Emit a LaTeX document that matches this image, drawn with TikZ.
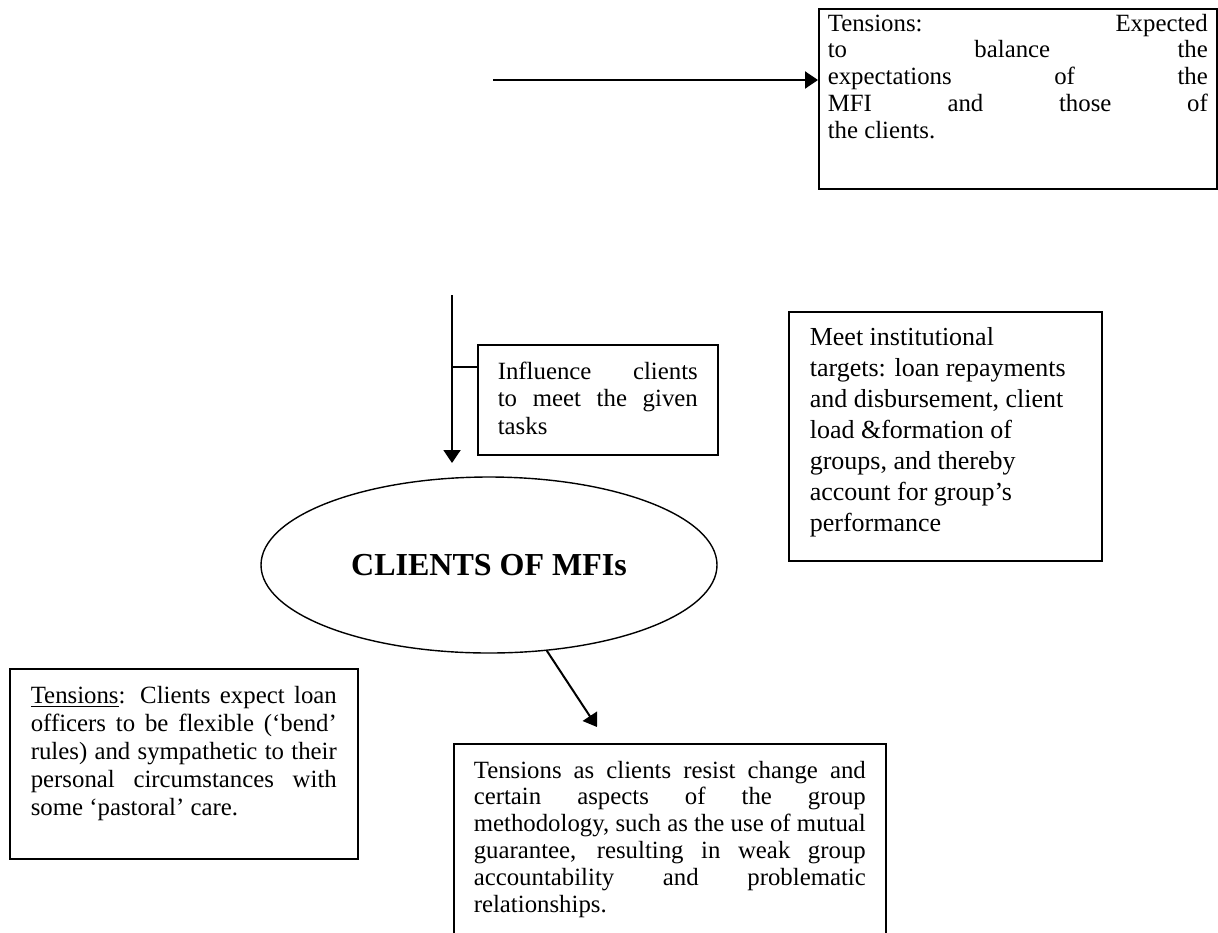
\documentclass[tikz,border=0pt]{standalone}
\usepackage{fontspec}
\setmainfont{Liberation Serif}
\usetikzlibrary{arrows.meta,shapes.geometric}

\tikzset{
  txtbox/.style={draw, line width=0.8pt, anchor=north west, inner xsep=10pt, inner ysep=8.5pt,
    font=\fontsize{12.4}{13.8}\selectfont},
  conn/.style={line width=1pt, -{Triangle[length=6.5pt,width=8.5pt]}},
}
\newcommand{\boxpar}[3]{\parbox[t][#2][t]{#1}{\hyphenpenalty=10000 #3}}

\begin{document}
\begin{tikzpicture}[x=0.5pt,y=-0.5pt]
  \useasboundingbox (0,0) rectangle (1218,932);
  \clip (0,0) rectangle (1218,932);

  % text boxes
  \node[txtbox, inner xsep=4.5pt, inner ysep=2.5pt, font=\fontsize{12.4}{13.4}\selectfont] (tens) at (818,8)
    {\boxpar{190pt}{85pt}{Tensions: Expected\linebreak to balance the\linebreak
      expectations of the\linebreak MFI and those of\linebreak the clients.}};
  \node[txtbox] (infl) at (477,344)
    {\boxpar{100pt}{38pt}{Influence clients\linebreak to meet the given\linebreak tasks}};
  \node[txtbox, inner xsep=10.5pt, inner ysep=8pt, font=\fontsize{13}{15.5}\selectfont] (meet) at (788,311)
    {\boxpar{135.5pt}{108.5pt}{\raggedright Meet institutional\\ targets: loan repayments\\
      and disbursement, client\\ load \&formation of\\ groups, and thereby\\
      account for group's\\ performance}};
  \node[txtbox, inner xsep=10.5pt, font=\fontsize{12.4}{14.1}\selectfont] (lbox) at (9,668)
    {\boxpar{153pt}{78pt}{\underline{Tensions}: Clients expect loan\linebreak
      officers to be flexible (`bend'\linebreak rules) and sympathetic to their\linebreak
      personal circumstances with\linebreak some `pastoral' care.}};
  \node[txtbox, font=\fontsize{12.4}{13.4}\selectfont] (tbox) at (453,743)
    {\boxpar{196pt}{86.5pt}{Tensions as clients resist change and\linebreak
      certain aspects of the group\linebreak methodology, such as the use of mutual\linebreak
      guarantee, resulting in weak group\linebreak accountability and problematic\linebreak
      relationships.}};

  % centre
  \node[draw, ellipse, line width=0.7pt, minimum width=228pt, minimum height=88pt, inner sep=0pt,
    font=\fontsize{16}{19}\selectfont\bfseries] (clients) at (489,565) {CLIENTS OF MFIs};

  % arrows
  \coordinate (hstart) at (493,80);
  \draw[conn] (hstart) -- (hstart -| tens.west);
  \coordinate (vtop) at (452,295);
  \coordinate (vend) at (452,463);
  \draw[conn] (vtop) -- (vend);
  \coordinate (vjoin) at (452,367);
  \draw[line width=0.7pt] (vjoin) -- (vjoin -| infl.west);
  \coordinate (dend) at (597,727);
  \draw[conn] (clients.-56) -- (dend);
\end{tikzpicture}
\end{document}
